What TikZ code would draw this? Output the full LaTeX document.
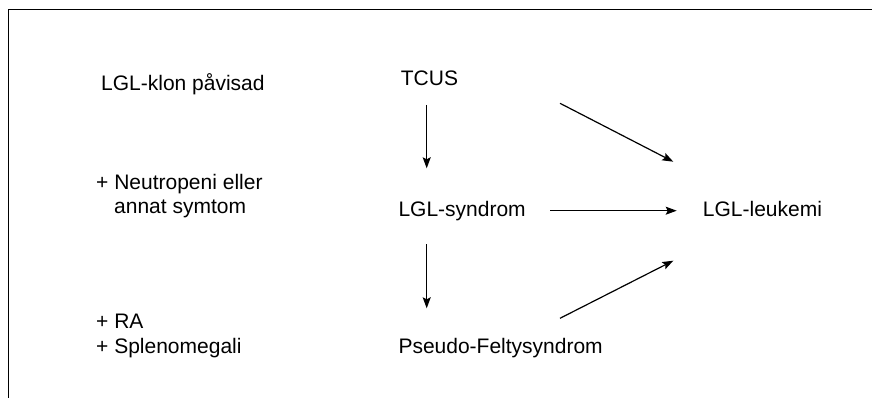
\documentclass[tikz,border=0pt]{standalone}
\usepackage{fontspec}
\setmainfont{Liberation Sans}
\usetikzlibrary{arrows.meta}
\tikzset{
  lbl/.style={anchor=base west, inner sep=0pt, font=\fontsize{21}{25}\selectfont},
  conn/.style={line width=1.2pt, -{Stealth[length=11pt,width=8pt,inset=2pt]}},
  frame/.style={line width=1.4pt}
}
\begin{document}
\begin{tikzpicture}[x=1pt,y=-1pt]
\useasboundingbox (0,0) rectangle (872,398);
% frame (top and left only)
\draw[frame] (8.7,398) -- (8.7,9.7) -- (872,9.7);

% left column
\node[lbl] (klon) at (101,91) {LGL-klon påvisad};
\node[lbl] (neutro) at (96,189.3) {+ Neutropeni eller};
\node[lbl] (symtom) at (114,213) {annat symtom};
\node[lbl] (ra) at (96,328.3) {+ RA};
\node[lbl] (spleno) at (96,353.3) {+ Splenomegali};

% diagram nodes
\node[lbl] (tcus) at (400.7,86) {TCUS};
\node[lbl] (syndrom) at (398.3,216.7) {LGL-syndrom};
\node[lbl] (pseudo) at (398.3,353.3) {Pseudo-Feltysyndrom};
\node[lbl] (leuk) at (702.7,216) {LGL-leukemi};

% connector end points
\coordinate (t1) at (426.7,105);
\coordinate (s1) at (426.7,168.3);
\coordinate (t2) at (560,103.3);
\coordinate (l1) at (673.3,161.7);
\coordinate (s2) at (550,210.7);
\coordinate (l2) at (676.7,210.7);
\coordinate (s3) at (426.7,244);
\coordinate (p1) at (426.7,308.3);
\coordinate (p2) at (560,318.3);
\coordinate (l3) at (673.3,260.7);

\draw[conn] (t1) -- (s1);
\draw[conn] (t2) -- (l1);
\draw[conn] (s2) -- (l2);
\draw[conn] (s3) -- (p1);
\draw[conn] (p2) -- (l3);
\end{tikzpicture}
\end{document}
